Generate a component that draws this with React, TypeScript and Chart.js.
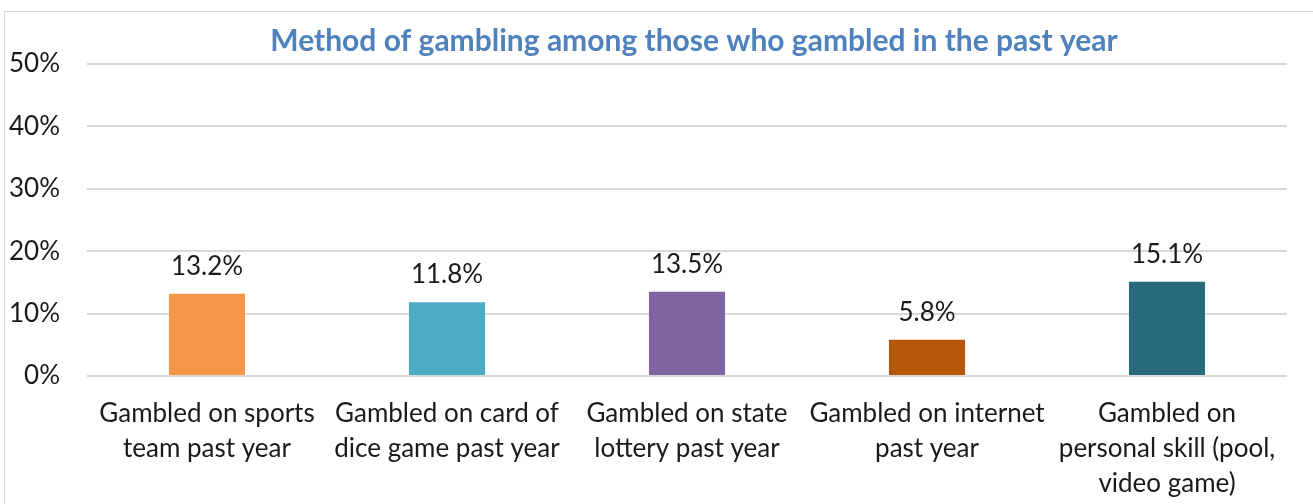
import React, { useEffect, useRef } from "react";
import { Chart, registerables } from "chart.js";

Chart.register(...registerables);

const categories: string[][] = [
  ["Gambled on sports", "team past year"],
  ["Gambled on card of", "dice game past year"],
  ["Gambled on state", "lottery past year"],
  ["Gambled on internet", "past year"],
  ["Gambled on", "personal skill (pool,", "video game)"],
];
const values: number[] = [13.2, 11.8, 13.5, 5.8, 15.1];
const barColors: string[] = ["#F79646", "#4BACC6", "#8064A2", "#B65708", "#276A7C"];
const yTicks: number[] = [0, 10, 20, 30, 40, 50];
const titleText = "Method of gambling among those who gambled in the past year";

const FONT = "Lato, Carlito, 'Open Sans', sans-serif";
const FS = 26;
const TITLE_FS = 30;

const labelPlugin = {
  id: "valueLabels",
  afterDatasetsDraw(chart: any) {
    const ctx = chart.ctx;
    const meta = chart.getDatasetMeta(0);
    ctx.save();
    ctx.font = `${FS}px ${FONT}`;
    ctx.fillStyle = "#1a1a1a";
    ctx.textAlign = "center";
    ctx.textBaseline = "alphabetic";
    meta.data.forEach((bar: any, i: number) => {
      ctx.fillText(values[i].toFixed(1) + "%", bar.x, bar.y - 19);
    });
    ctx.restore();
  },
};

const titlePlugin = {
  id: "customTitle",
  afterDraw(chart: any) {
    const ctx = chart.ctx;
    const a = chart.chartArea;
    ctx.save();
    ctx.font = `bold ${TITLE_FS}px ${FONT}`;
    ctx.fillStyle = "#4F81BD";
    ctx.textAlign = "center";
    ctx.textBaseline = "alphabetic";
    ctx.fillText(titleText, (a.left + a.right) / 2 + 7, 51);
    ctx.restore();
  },
};

export default function App() {
  const ref = useRef<HTMLCanvasElement | null>(null);
  useEffect(() => {
    if (!ref.current) return;
    const chart = new Chart(ref.current, {
      type: "bar",
      data: {
        labels: categories,
        datasets: [
          {
            data: values,
            backgroundColor: barColors,
            borderWidth: 0,
            categoryPercentage: 1,
            barPercentage: 0.317,
          },
        ],
      },
      options: {
        animation: false,
        responsive: false,
        maintainAspectRatio: false,
        layout: { padding: { top: 64, right: 26, bottom: 0, left: 0 } },
        plugins: {
          legend: { display: false },
          title: { display: false },
          tooltip: { enabled: false },
        },
        scales: {
          x: {
            grid: { display: false },
            border: { display: false },
            ticks: {
              font: { family: FONT, size: FS, lineHeight: 1.35 },
              color: "#1a1a1a",
              padding: 12,
              maxRotation: 0,
              autoSkip: false,
            },
            afterFit(axis: any) {
              axis.height = 128;
            },
          },
          y: {
            min: 0,
            max: 50,
            afterBuildTicks(axis: any) {
              axis.ticks = yTicks.map((v) => ({ value: v }));
            },
            grid: { color: "#D9D9D9", lineWidth: 2, drawTicks: false },
            border: { display: false },
            ticks: {
              font: { family: FONT, size: FS },
              color: "#1a1a1a",
              padding: 27,
              callback: (v: any) => v + "%",
            },
            afterFit(axis: any) {
              axis.width = 87;
            },
          },
        },
      },
      plugins: [labelPlugin, titlePlugin],
    });
    return () => chart.destroy();
  }, []);

  return (
    <div style={{ position: "fixed", left: 0, top: 0, width: 1313, height: 504, background: "#fff", overflow: "hidden" }}>
      <div
        style={{
          position: "absolute",
          left: 4,
          top: 11,
          width: 1340,
          height: 520,
          border: "1.5px solid #D9D9D9",
        }}
      />
      <canvas ref={ref} width={1313} height={504} style={{ position: "absolute", left: 0, top: 0, width: 1313, height: 504 }} />
    </div>
  );
}
